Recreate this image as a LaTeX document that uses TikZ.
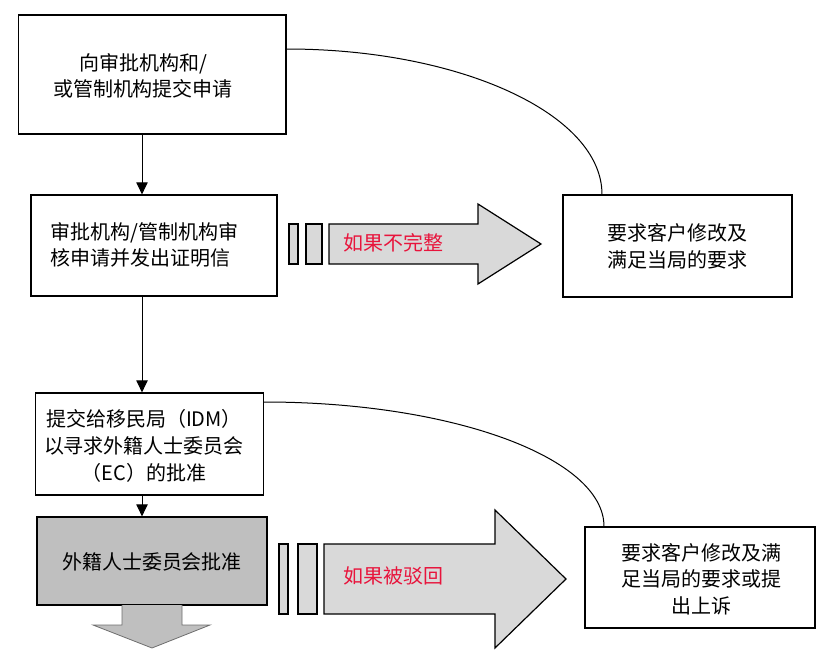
\documentclass[tikz,border=0pt]{standalone}
\usepackage{fontspec}
\setmainfont{Noto Sans CJK SC}
\usetikzlibrary{arrows.meta}

\definecolor{redtext}{RGB}{232,20,60}
\definecolor{fatgray}{RGB}{217,217,217}
\definecolor{boxgray}{RGB}{191,191,191}

\tikzset{
  flowbox/.style={draw, line width=0.9pt, align=center, inner sep=0pt,
    font=\fontsize{15}{20}\selectfont},
  boxtext/.style={align=center, inner sep=0pt, font=\fontsize{15}{20}\selectfont},
  flowarrow/.style={line width=0.75pt, -{Triangle[length=9pt,width=8.5pt]}},
  fatarrow/.style={draw, line width=0.9pt, fill=fatgray},
  redlabel/.style={text=redtext, font=\fontsize{15}{20}\selectfont},
}

\begin{document}
\begin{tikzpicture}[x=0.75pt,y=0.75pt,yscale=-1,xscale=1]
\useasboundingbox (0,0) rectangle (826,667);

%Shape: Rectangle
\node[flowbox, minimum width=200.6pt, minimum height=89.25pt] (submit) at (152.25,74.5) {};
\node[flowbox, minimum width=184.5pt, minimum height=75.75pt] (review) at (154,245.5) {};
\node[flowbox, minimum width=171.75pt, minimum height=76.5pt] (amend) at (677.5,246) {};
\node[flowbox, minimum width=171pt, minimum height=76.5pt] (idm) at (149.5,444) {};
\node[flowbox, fill=boxgray, minimum width=172.5pt, minimum height=66pt] (approve) at (152,561) {};
\node[flowbox, minimum width=172.5pt, minimum height=75.75pt] (appeal) at (700,577.5) {};

% Text Node
\node[boxtext] (submittext) at (143,76) {向审批机构和/\\或管制机构提交申请};
% Text Node
\node[boxtext, align=left, anchor=west] (reviewtext) at (50,245) {审批机构/管制机构审\\核申请并发出证明信};
% Text Node
\node[boxtext] (amendtext) at (677.5,246) {要求客户修改及\\满足当局的要求};
% Text Node
\node[boxtext] (idmtext) at (144,446) {提交给移民局（IDM）\\以寻求外籍人士委员会\\（EC）的批准};
% Text Node
\node[boxtext] (approvetext) at (152,562) {外籍人士委员会批准};
% Text Node
\node[boxtext] (appealtext) at (701,579) {要求客户修改及满\\足当局的要求或提\\出上诉};

\coordinate (spine) at (142,0);
\coordinate (c1) at (286,49);
\coordinate (c2) at (602,0);
\coordinate (c3) at (264,402);
\coordinate (c4) at (604,0);

%Straight Lines
\draw[flowarrow] (submit.south -| spine) -- (review.north -| spine);
\draw[flowarrow] (review.south -| spine) -- (idm.north -| spine);
\draw[flowarrow] (idm.south -| spine) -- (approve.north -| spine);

%Curve Lines
\draw[line width=0.75pt] (submit.east |- c1) .. controls (460,49) and (602,114) .. (amend.north -| c2);
\draw[line width=0.75pt] (idm.east |- c3) .. controls (453,402) and (604,458) .. (appeal.north -| c4);

%Shape: Right Arrow
\draw[fatarrow] (289,224) rectangle (298,264);
\draw[fatarrow] (306,224) rectangle (322,264);
\draw[fatarrow] (329,224) -- (478,224) -- (478,204) -- (541,244) -- (478,284) -- (478,264) -- (329,264) -- cycle;

%Shape: Right Arrow
\draw[fatarrow] (279,544) rectangle (288,614);
\draw[fatarrow] (298,544) rectangle (317,614);
\draw[fatarrow] (324,544) -- (495,544) -- (495,510) -- (566,579) -- (495,648) -- (495,614) -- (324,614) -- cycle;

%Shape: Down Arrow
\draw[line width=0.6pt, draw={rgb,255:red,110;green,110;blue,110}, fill=boxgray] (122,605) -- (122,625) -- (93,625) -- (152,648) -- (210,625) -- (182,625) -- (182,605);

% Text Node
\node[redlabel] (incomplete) at (393,243) {如果不完整};
% Text Node
\node[redlabel] (rejected) at (393,576) {如果被驳回};

\end{tikzpicture}
\end{document}
